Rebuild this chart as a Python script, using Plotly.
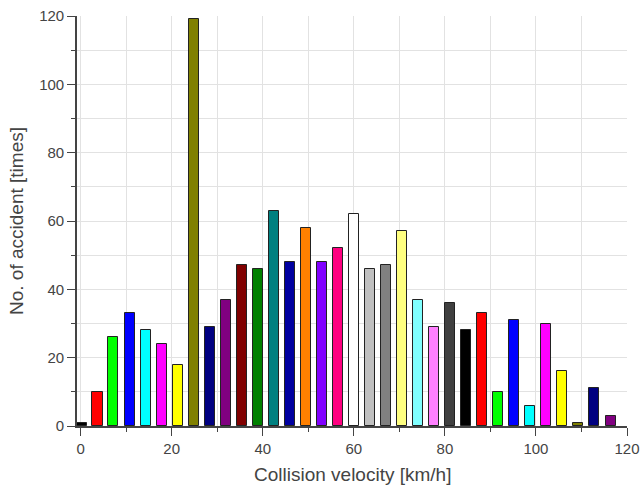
import plotly.graph_objects as go

velocity = [0.2, 3.7, 7.2, 10.8, 14.3, 17.8, 21.3, 24.8, 28.4, 31.9, 35.4, 38.9,
            42.4, 46.0, 49.5, 53.0, 56.5, 60.0, 63.6, 67.1, 70.6, 74.1, 77.6, 81.2,
            84.7, 88.2, 91.7, 95.2, 98.8, 102.3, 105.8, 109.3, 112.8, 116.4]
accidents = [1, 10, 26, 33, 28, 24, 18, 119, 29, 37, 47, 46,
             63, 48, 58, 48, 52, 62, 46, 47, 57, 37, 29, 36,
             28, 33, 10, 31, 6, 30, 16, 1, 11, 3]
palette = ["#000000", "#FF0000", "#00FF00", "#0000FF", "#00FFFF", "#FF00FF",
           "#FFFF00", "#808000", "#000080", "#800080", "#800000", "#008000",
           "#008080", "#0000A0", "#FF8000", "#8000FF", "#FF0080", "#FFFFFF",
           "#C0C0C0", "#808080", "#FFFF80", "#80FFFF", "#FF80FF", "#404040"]
colors = [palette[i % len(palette)] for i in range(len(accidents))]
x_title = "Collision velocity [km/h]"
y_title = "No. of accident [times]"

fig = go.Figure(go.Bar(
    x=velocity, y=accidents, width=2.2,
    marker=dict(color=colors, line=dict(color="#222222", width=1)),
))

font = dict(family="Liberation Sans, Arial, sans-serif", color="#444444")
axis_common = dict(
    showline=True, linecolor="#444444", linewidth=1.6,
    ticks="outside", ticklen=8, tickcolor="#444444", tickwidth=1.3,
    showgrid=True, gridcolor="#E2E2E2", gridwidth=1, zeroline=False,
    tickfont=dict(size=15, **font), mirror=False, automargin=False,
)
minor = dict(dtick=10, ticklen=4, tickcolor="#444444", tickwidth=1.2, showgrid=True,
             gridcolor="#E2E2E2", ticks="outside")
fig.update_layout(
    width=640, height=486,
    margin=dict(l=77, r=13, t=16, b=60),
    paper_bgcolor="white", plot_bgcolor="white",
    showlegend=False, bargap=0,
    xaxis=dict(range=[-0.8, 120], dtick=20, tick0=0, minor=minor, **axis_common),
    yaxis=dict(range=[0, 120], dtick=20, tick0=0, minor=minor,
               title=dict(text=y_title, font=dict(size=19, **font), standoff=11),
               **axis_common),
    annotations=[dict(text=x_title, xref="paper", yref="paper", x=0.5, y=-0.119,
                      xanchor="center", yanchor="middle", showarrow=False,
                      font=dict(size=19, **font))],
)
fig.write_html("out.html")
